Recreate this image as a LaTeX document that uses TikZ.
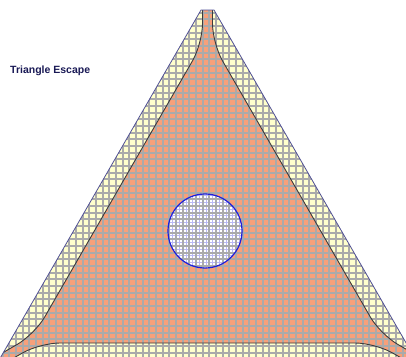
\documentclass[tikz,border=0pt]{standalone}
\usepackage{fontspec}
\setmainfont{Liberation Sans}
\definecolor{band}{RGB}{255,255,204}
\definecolor{salmon}{RGB}{247,160,122}
\definecolor{gridc}{RGB}{170,170,170}
\definecolor{lav}{RGB}{185,185,245}
\definecolor{edgec}{RGB}{80,80,150}
\definecolor{divc}{RGB}{60,60,60}
\definecolor{circc}{RGB}{30,30,220}
\definecolor{titlec}{RGB}{25,25,85}
\tikzset{
  gridline/.style={gridc, line width=1.9pt},
  lavline/.style={lav, line width=1pt},
  divider/.style={divc, line width=0.9pt},
  outeredge/.style={edgec, line width=0.8pt},
  holeedge/.style={circc, line width=1.2pt},
  titletext/.style={font=\bfseries\fontsize{10.5}{12}\selectfont, text=titlec, inner sep=0pt, anchor=west}
}
\newcommand{\innershape}{%
    (202.5,-40) -- (207.5,-70) -- (212.5,-40)
    -- (212.5,43.5) -- (380.3,334.3) -- (449.6,374.3) -- (473.1,393.65) -- (444.6,383)
    -- (375.3,343) -- (39.7,343) -- (-29.6,383) -- (-58.1,393.65) -- (-34.6,374.3)
    -- (34.7,334.3) -- (202.5,43.5) -- cycle}
\begin{document}
\begin{tikzpicture}[x=1pt,y=-1pt]
\useasboundingbox (0,0) rectangle (406,356);
% outer triangle
\fill[band] (201,10) -- (214,10) -- (416.5,361) -- (-1.5,361) -- cycle;
\begin{scope}
  \clip (201,10) -- (214,10) -- (416.5,361) -- (-1.5,361) -- cycle;
  \fill[salmon, rounded corners=20pt] \innershape;
  % hole
  \fill[white] (205,231) circle (37);
  \begin{scope}
    \clip (205,231) circle (37);
    \foreach \i in {0,...,61} {
      \draw[lavline] ({6.03+6.667*\i},0) -- ({6.03+6.667*\i},361);
      \draw[lavline] (0,{2.57+6.667*\i}) -- (420,{2.57+6.667*\i});
    }
  \end{scope}
  % grid
  \foreach \i in {0,...,62} {
    \draw[gridline] ({2.7+6.667*\i},0) -- ({2.7+6.667*\i},361);
    \draw[gridline] (-5,{5.9+6.667*\i}) -- (420,{5.9+6.667*\i});
  }
  \draw[divider, rounded corners=20pt] \innershape;
\end{scope}
\draw[outeredge] (-1.5,361) -- (201,10) -- (214,10) -- (416.5,361);
\draw[holeedge] (205,231) circle (37);
\node[titletext] (title) at (10,71) {Triangle Escape};
\end{tikzpicture}
\end{document}
